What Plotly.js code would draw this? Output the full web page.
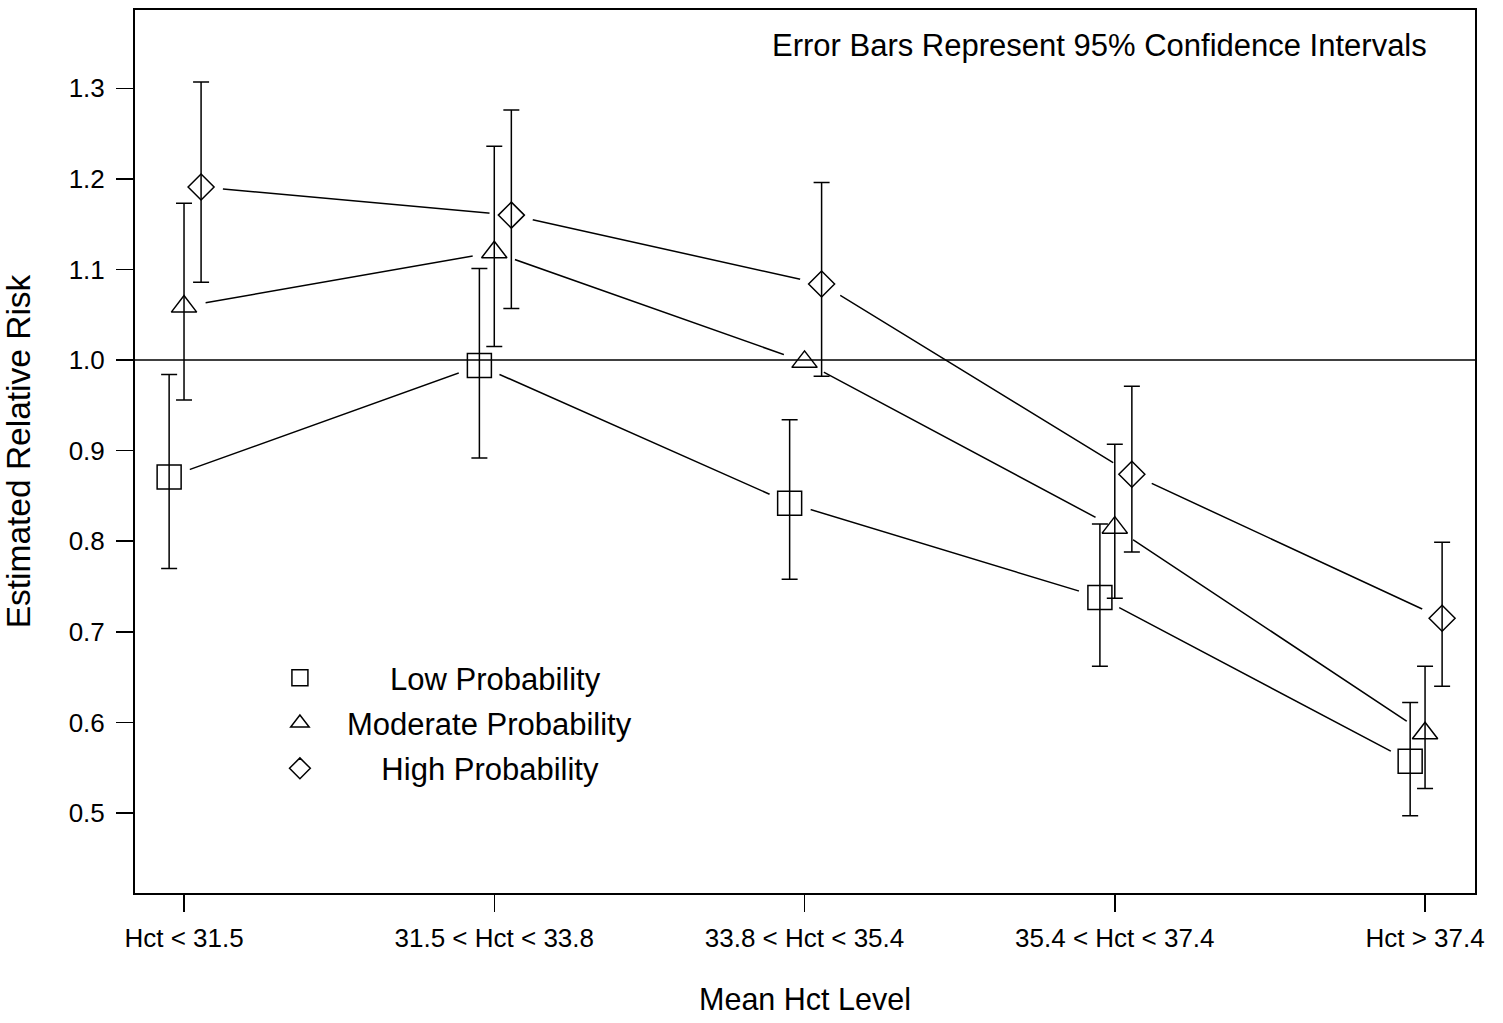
<!DOCTYPE html>
<html>
<head>
<meta charset="utf-8">
<script src="https://cdn.plot.ly/plotly-3.0.1.min.js"></script>
<style>
  html, body { margin: 0; padding: 0; background: #ffffff; }
  #chart { width: 1503px; height: 1023px; }
</style>
</head>
<body>
<div id="chart"></div>
<script>
// ---- data ----
const categories = ['Hct < 31.5', '31.5 < Hct < 33.8', '33.8 < Hct < 35.4', '35.4 < Hct < 37.4', 'Hct > 37.4'];
const seriesNames = ['Low Probability', 'Moderate Probability', 'High Probability'];

const lowRR    = [0.871, 0.994, 0.842, 0.738, 0.557];
const lowUpper = [0.984, 1.101, 0.934, 0.819, 0.622];
const lowLower = [0.770, 0.892, 0.758, 0.662, 0.497];

const modRR    = [1.059, 1.119, 0.998, 0.815, 0.588];
const modUpper = [1.173, 1.236, null, 0.907, 0.662];
const modLower = [0.956, 1.015, null, 0.737, 0.527];

const highRR    = [1.191, 1.160, 1.084, 0.874, 0.715];
const highUpper = [1.307, 1.276, 1.196, 0.971, 0.799];
const highLower = [1.086, 1.057, 0.982, 0.788, 0.640];

const yTicks = [0.5, 0.6, 0.7, 0.8, 0.9, 1.0, 1.1, 1.2, 1.3];
const referenceLevel = 1.0;

// ---- styling ----
const FONT = 'Liberation Sans, Arial, sans-serif';
const NB = '\u00A0';
// leading padding roughly centres the legend labels as in the reference
const legendPad = [NB.repeat(5), '', NB.repeat(4)];
const series = [
  { name: seriesNames[0], rr: lowRR,  up: lowUpper,  lo: lowLower,  dx: -0.048, symbol: 'square-open',      size: 24 },
  { name: seriesNames[1], rr: modRR,  up: modUpper,  lo: modLower,  dx: 0.0,    symbol: 'triangle-up-open', size: 22 },
  { name: seriesNames[2], rr: highRR, up: highUpper, lo: highLower, dx: 0.055,  symbol: 'diamond-open',     size: 20 }
];

const idx = categories.map((c, i) => i);
const traces = [];

// connecting lines
series.forEach(s => {
  traces.push({
    type: 'scatter', mode: 'lines',
    x: idx.map(i => i + s.dx), y: s.rr,
    line: { color: '#000', width: 1.5 },
    showlegend: false, hoverinfo: 'skip'
  });
});
// white masks that open a gap in the lines around each marker
series.forEach(s => {
  traces.push({
    type: 'scatter', mode: 'markers',
    x: idx.map(i => i + s.dx), y: s.rr,
    marker: { symbol: 'circle', size: 44, color: '#fff', line: { width: 0 } },
    showlegend: false, hoverinfo: 'skip'
  });
});
// markers with confidence intervals
series.forEach((s, k) => {
  traces.push({
    type: 'scatter', mode: 'markers', name: legendPad[k] + s.name,
    legendgroup: 'g' + k,
    x: idx.map(i => i + s.dx), y: s.rr,
    marker: { symbol: s.symbol, size: s.size, color: '#000', line: { color: '#000', width: 1.5 } },
    error_y: {
      type: 'data', symmetric: false, visible: true,
      array: s.rr.map((v, i) => s.up[i] == null ? NaN : s.up[i] - v),
      arrayminus: s.rr.map((v, i) => s.lo[i] == null ? NaN : v - s.lo[i]),
      color: '#000', thickness: 1.5, width: 8
    }
  });
});

const layout = {
  width: 1503, height: 1023,
  paper_bgcolor: '#fff', plot_bgcolor: '#fff',
  margin: { l: 135, r: 28, t: 10, b: 130 },
  font: { family: FONT, color: '#000' },
  showlegend: true,
  legend: {
    x: 0.088, y: 0.274, xanchor: 'left', yanchor: 'top',
    bgcolor: 'rgba(0,0,0,0)', borderwidth: 0,
    font: { family: FONT, size: 31, color: '#000' },
    itemwidth: 84,
    traceorder: 'grouped', tracegroupgap: 2
  },
  xaxis: {
    range: [-0.158, 4.161],
    tickmode: 'array', tickvals: idx, ticktext: categories,
    ticks: 'outside', ticklen: 17, tickwidth: 1.5, tickcolor: '#000',
    tickfont: { family: FONT, size: 26, color: '#000' },
    ticklabelstandoff: 4,
    showline: true, linecolor: '#000', linewidth: 2, mirror: true,
    showgrid: false, zeroline: false,
    title: { text: 'Mean Hct Level', font: { family: FONT, size: 30.5, color: '#000' }, standoff: 36 }
  },
  yaxis: {
    range: [0.4117, 1.3864],
    tickmode: 'array', tickvals: yTicks, ticktext: yTicks.map(v => v.toFixed(1)),
    ticks: 'outside', ticklen: 17, tickwidth: 1.5, tickcolor: '#000',
    tickfont: { family: FONT, size: 26, color: '#000' },
    ticklabelstandoff: 6,
    showline: true, linecolor: '#000', linewidth: 2, mirror: true,
    showgrid: false, zeroline: false,
    title: { text: 'Estimated Relative Risk', font: { family: FONT, size: 33.5, color: '#000' }, standoff: 30 }
  },
  shapes: [{
    type: 'line', xref: 'paper', x0: 0, x1: 1, yref: 'y', y0: referenceLevel, y1: referenceLevel,
    line: { color: '#000', width: 1.5 }, layer: 'above'
  }],
  annotations: [{
    text: 'Error Bars Represent 95% Confidence Intervals',
    xref: 'paper', yref: 'paper', x: 0.966, y: 0.960, xanchor: 'right', yanchor: 'middle',
    showarrow: false, font: { family: FONT, size: 31, color: '#000' }
  }]
};

Plotly.newPlot('chart', traces, layout, { displayModeBar: false, staticPlot: true });
</script>
</body>
</html>
